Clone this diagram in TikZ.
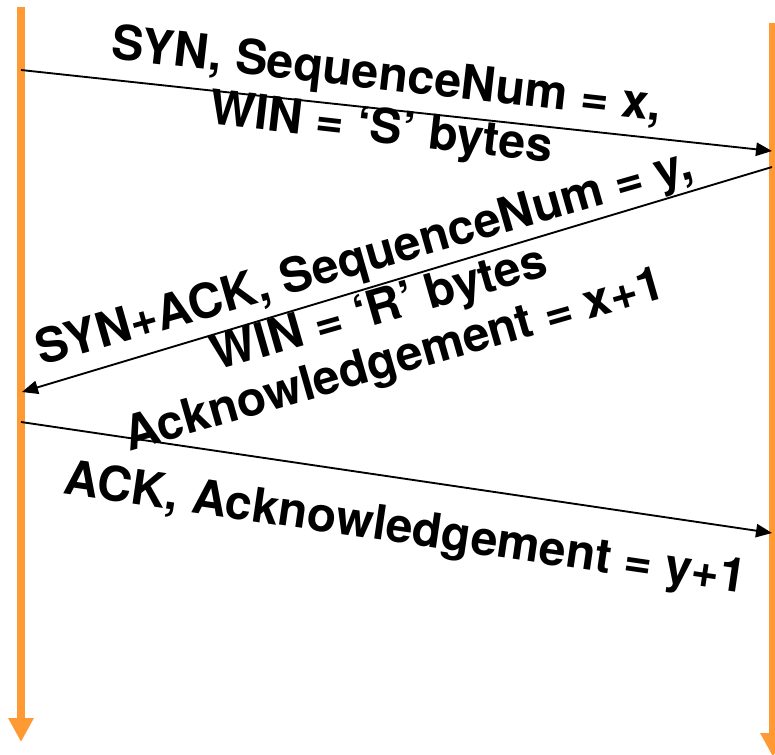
\documentclass[tikz,border=0pt]{standalone}
\usepackage{fontspec}
\setmainfont{TeX Gyre Heros}
\usepackage{xcolor}
\usepackage{tikz}
\usetikzlibrary{arrows.meta}

\definecolor{lifeorange}{HTML}{FF9933}

\begin{document}
\begin{tikzpicture}[x=0.75pt,y=-0.75pt,
    lifeline/.style={line width=6pt,lifeorange,-{Triangle[length=18pt,width=18pt]}},
    msg/.style={line width=1.4pt,-{Triangle[length=12pt,width=10pt]}},
    msglabel/.style={font=\fontsize{36}{40}\selectfont\bfseries,align=center,inner sep=0pt}]
  % Three-way handshake between two lifelines.
  \useasboundingbox (0,0) rectangle (775,754);

  \coordinate (L0) at (21,7);
  \coordinate (L1) at (21,742);
  \coordinate (R0) at (773,23);
  \coordinate (R1) at (773,757);

  \coordinate (s1) at (21,70);
  \coordinate (r1) at (772,151);
  \coordinate (r2) at (772,167);
  \coordinate (s2) at (22,392);
  \coordinate (s3) at (21,422);
  \coordinate (r3) at (772,533);

  \draw[lifeline] (L0) -- (L1);
  \draw[lifeline] (R0) -- (R1);

  \draw[msg] (s1) -- (r1);
  \draw[msg] (r2) -- (s2);
  \draw[msg] (s3) -- (r3);

  \node[msglabel,rotate=-6.5] (syn) at (384,104)
    {SYN, SequenceNum = x,\\WIN = ‘S’ bytes};
  \node[msglabel,rotate=16] (synack) at (380,311)
    {SYN+ACK, SequenceNum = y,\\WIN = ‘R’ bytes\\Acknowledgement = x+1};
  \node[msglabel,rotate=-8.3] (ack) at (405,531)
    {ACK, Acknowledgement = y+1};
\end{tikzpicture}
\end{document}
